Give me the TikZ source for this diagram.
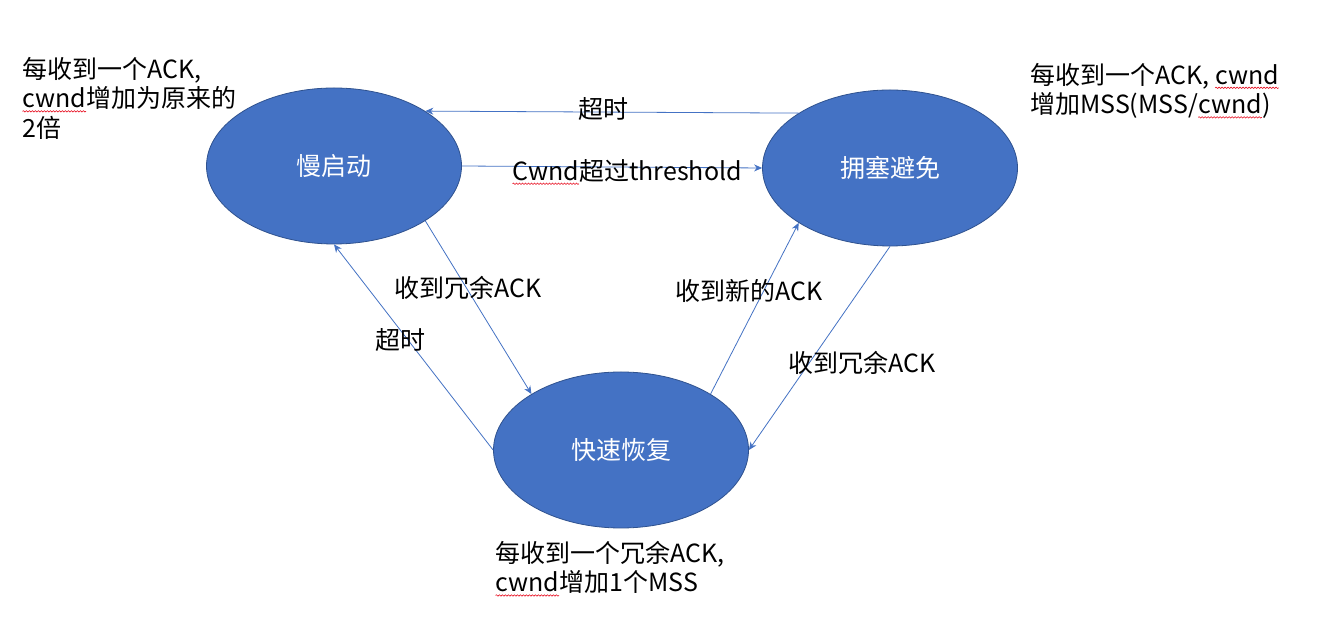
\documentclass[tikz,border=0pt]{standalone}
\usepackage{fontspec}
\setmainfont{Noto Sans CJK SC}
\usetikzlibrary{shapes.geometric,arrows.meta,decorations.pathmorphing}
\definecolor{nodeblue}{HTML}{4472C4}
\definecolor{nodeedge}{HTML}{2F528F}
\definecolor{wavyred}{HTML}{E81123}
\newcommand\wavyword[1]{\tikz[baseline=(W.base)]{\node[inner sep=0pt,outer sep=0pt](W){#1};\draw[wavyred,line width=0.6pt,decorate,decoration={snake,amplitude=0.7pt,segment length=3pt}]([yshift=-3.5pt]W.base west)--([yshift=-3.5pt]W.base east);}}
\tikzset{
  state/.style={ellipse,fill=nodeblue,draw=nodeedge,line width=0.8pt,minimum width=255pt,minimum height=156pt,inner sep=0pt,text=white,font=\fontsize{25}{30}\selectfont},
  conn/.style={draw=nodeblue,line width=0.8pt,-{Stealth[length=8pt,width=7pt]}},
  lbl/.style={inner sep=0pt,font=\fontsize{25}{30}\selectfont},
  note/.style={inner sep=0pt,anchor=north west,align=left,font=\fontsize{25}{29.5}\selectfont}
}
\begin{document}
\begin{tikzpicture}[x=1pt,y=1pt]
\useasboundingbox[fill=white] (0,0) rectangle (1322,634);
\node[state] (ss) at (334,468) {慢启动};
\node[state] (ca) at (890,466) {拥塞避免};
\node[state] (fr) at (621,184) {快速恢复};
\draw[conn] (ca.149) -- (ss.31);
\draw[conn] (ss.east) -- (ca.west);
\draw[conn] (ss.-31) -- (fr.148);
\draw[conn] (fr.west) -- (ss.south);
\draw[conn] (fr.32) -- (ca.211);
\draw[conn] (ca.south) -- (fr.east);
\node[lbl] (l1) at (603,525) {超时};
\node[lbl] (l2) at (627,462) {\wavyword{Cwnd}超过threshold};
\node[lbl] (l3) at (468,346) {收到冗余ACK};
\node[lbl] (l4) at (400,294) {超时};
\node[lbl] (l5) at (749,343) {收到新的ACK};
\node[lbl] (l6) at (862,271) {收到冗余ACK};
\node[note] (n1) at (22,577) {每收到一个ACK,\\\wavyword{cwnd}增加为原来的\\2倍};
\node[note] (n2) at (1030,571) {每收到一个ACK, \wavyword{cwnd}\\增加MSS(MSS/\wavyword{cwnd})};
\node[note] (n3) at (495,93) {每收到一个冗余ACK,\\\wavyword{cwnd}增加1个MSS};
\end{tikzpicture}
\end{document}
